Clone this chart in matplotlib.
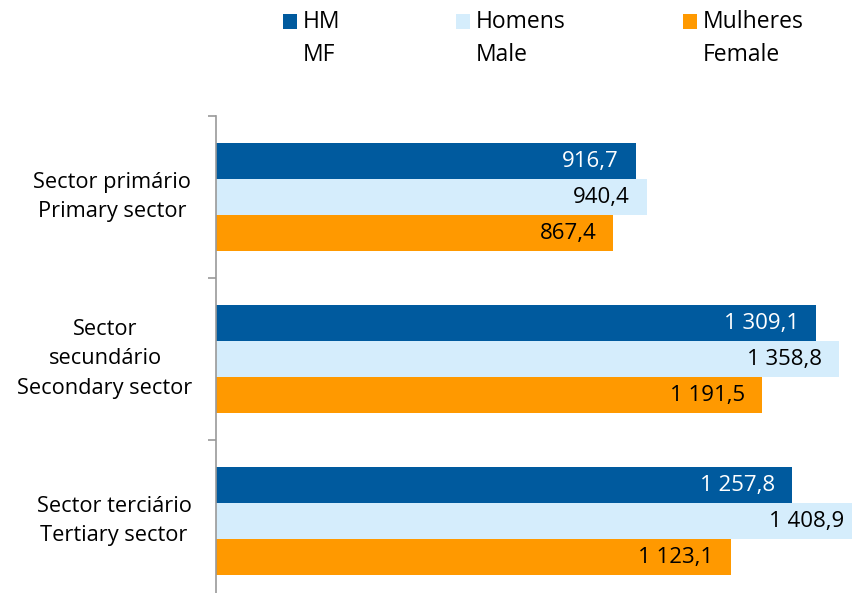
import numpy as np
import matplotlib
matplotlib.use('Agg')
import matplotlib.pyplot as plt
from matplotlib.patches import Rectangle

plt.rcParams['font.family'] = ['Open Sans', 'DejaVu Sans']

categories = ['Sector primário\nPrimary sector',
              'Sector\nsecundário\nSecondary sector',
              'Sector terciário\nTertiary sector']
series_names = ['HM\nMF', 'Homens\nMale', 'Mulheres\nFemale']
hm = [916.7, 1309.1, 1257.8]
homens = [940.4, 1358.8, 1408.9]
mulheres = [867.4, 1191.5, 1123.1]

colors = ['#005A9E', '#D5EDFC', '#FF9900']
text_colors = ['white', 'black', 'black']


def fmt(v):
    s = '{:,.1f}'.format(v)
    return s.replace(',', ' ').replace('.', ',')


W, H = 853, 593
fig = plt.figure(figsize=(W / 100, H / 100), dpi=100)

# axes placed in pixel terms: left spine at x=216, top at y=116
x0, x1 = 216, 870
y_top, y_bot = 116, 602
ax = fig.add_axes([x0 / W, 1 - y_bot / H, (x1 - x0) / W, (y_bot - y_top) / H])
px_per_unit = 420 / 916.7
ax.set_xlim(0, (x1 - x0) / px_per_unit)
ax.set_ylim(2.5, -0.5)

bar_h = 36 / 162
idx = np.arange(len(categories))
for k, vals in enumerate([hm, homens, mulheres]):
    ypos = idx + (k - 1) * bar_h
    ax.barh(ypos, vals, height=bar_h, color=colors[k], edgecolor='none')
    for y, v in zip(ypos, vals):
        xt = min(v, (853 - x0 + 12) / px_per_unit)
        ax.annotate(fmt(v), (xt, y), xytext=(-17, 0), textcoords='offset pixels',
                    ha='right', va='center', fontsize=16, color=text_colors[k])

for s in ['top', 'right', 'bottom']:
    ax.spines[s].set_visible(False)
ax.spines['left'].set_color('#999999')
ax.spines['left'].set_linewidth(1.2)
ax.set_xticks([])
ax.set_yticks([-0.5, 0.5, 1.5, 2.5])
ax.set_yticklabels([])
ax.tick_params(axis='y', length=6, width=1.2, color='#999999', direction='out')

cat_x = [112, 105, 114]
for i, c in enumerate(categories):
    yy = 1 - (y_top + (i + 0.5) * 162) / H
    fig.text(cat_x[i] / W, yy, c, ha='center', va='center', fontsize=15.7,
             linespacing=1.56)

# legend drawn by hand
leg_sq = [283, 456, 683]
for k, name in enumerate(series_names):
    fig.patches.append(Rectangle((leg_sq[k] / W, 1 - 29 / H), 14 / W, 15 / H,
                                 transform=fig.transFigure, facecolor=colors[k],
                                 edgecolor='none'))
    fig.text((leg_sq[k] + 20) / W, 1 - 10 / H, name, ha='left', va='top',
             fontsize=16.5, linespacing=1.5)

fig.savefig('out.png', dpi=100)
